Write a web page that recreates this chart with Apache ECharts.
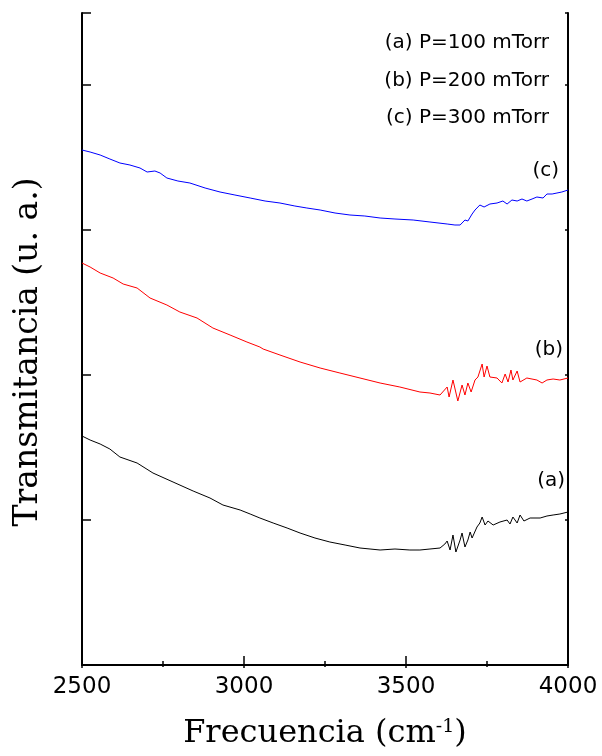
<!DOCTYPE html>
<html>
<head>
<meta charset="utf-8">
<title>Transmitancia</title>
<script src="https://cdn.jsdelivr.net/npm/echarts@6/dist/echarts.min.js"></script>
<style>
  html, body { margin: 0; padding: 0; background: #fff; }
</style>
</head>
<body>
<div id="chartDom" style="width: 602px; height: 756px;"></div>
<script>
// espectros (u. a. arbitrarias, frecuencia en cm-1)
const freqA = [2500, 2525, 2556, 2586, 2617, 2670, 2719, 2781, 2843, 2895, 2935, 2988, 3019, 3049, 3090, 3133, 3173, 3219, 3265, 3312, 3358, 3389, 3420, 3466, 3512, 3543, 3574, 3605, 3620, 3627, 3636, 3645, 3654, 3667, 3673, 3682, 3691, 3698, 3704, 3719, 3728, 3735, 3744, 3753, 3769, 3790, 3812, 3821, 3830, 3843, 3852, 3864, 3883, 3914, 3935, 3954, 3975, 4000];
const valA = [229, 225, 221, 216, 208, 202, 192, 183, 174, 167, 160, 155, 151, 147, 142, 137, 132, 127, 123, 120, 117, 116, 115, 116, 115, 115, 116, 117, 121, 124, 115, 130, 113, 125, 132, 118, 125, 133, 127, 138, 142, 148, 140, 144, 140, 143, 145, 141, 148, 142, 150, 144, 147, 147, 149, 150, 151, 153];

const freqB = [2500, 2525, 2556, 2596, 2627, 2670, 2710, 2762, 2802, 2855, 2904, 2957, 3009, 3049, 3059, 3111, 3173, 3235, 3296, 3358, 3420, 3481, 3543, 3574, 3605, 3627, 3633, 3645, 3660, 3673, 3682, 3691, 3701, 3713, 3722, 3735, 3741, 3750, 3759, 3781, 3796, 3806, 3815, 3824, 3830, 3843, 3852, 3873, 3904, 3920, 3935, 3954, 3975, 4000];
const valB = [402, 398, 392, 387, 381, 377, 367, 360, 353, 347, 337, 330, 323, 318, 316, 310, 303, 297, 292, 287, 282, 278, 273, 272, 270, 278, 268, 285, 264, 280, 270, 282, 273, 285, 288, 301, 288, 299, 288, 287, 282, 291, 283, 295, 285, 294, 283, 287, 285, 282, 285, 286, 285, 287];

const freqC = [2500, 2525, 2556, 2586, 2617, 2648, 2679, 2701, 2725, 2741, 2762, 2796, 2833, 2880, 2926, 2972, 3019, 3065, 3111, 3157, 3194, 3235, 3281, 3327, 3373, 3420, 3466, 3522, 3574, 3627, 3651, 3667, 3682, 3691, 3704, 3713, 3728, 3741, 3759, 3781, 3799, 3812, 3827, 3843, 3858, 3873, 3889, 3904, 3923, 3935, 3951, 3966, 3981, 4000];
const valC = [515, 513, 510, 506, 502, 500, 497, 493, 494, 492, 487, 484, 482, 477, 473, 470, 467, 464, 462, 459, 457, 455, 452, 450, 449, 447, 446, 445, 443, 441, 440, 440, 445, 444, 451, 455, 460, 458, 461, 462, 464, 461, 465, 464, 466, 464, 466, 468, 467, 471, 471, 472, 473, 475];

const xTicks = [2500, 3000, 3500, 4000];
const legendLines = ['(a) P=100 mTorr', '(b) P=200 mTorr', '(c) P=300 mTorr'];
const curveLabels = ['(a)', '(b)', '(c)'];

const zip = (xs, ys) => xs.map((x, i) => [x, ys[i]]);

const chart = echarts.init(document.getElementById('chartDom'));

const sansText = (text, x, y, align) => ({
  type: 'text',
  x: x,
  y: y,
  style: {
    text: text,
    fill: '#000',
    fontSize: 20,
    fontFamily: 'DejaVu Sans',
    align: align, textAlign: align,
    verticalAlign: 'middle', textVerticalAlign: 'middle'
  }
});

const option = {
  animation: false,
  backgroundColor: '#fff',
  grid: { left: 82, right: 34, top: 13, bottom: 91 },
  xAxis: [
    {
      type: 'value',
      min: xTicks[0],
      max: xTicks[xTicks.length - 1],
      interval: 500,
      axisLine: { lineStyle: { color: '#000', width: 2 } },
      axisTick: { inside: true, length: 9, lineStyle: { color: '#000', width: 1.5 } },
      minorTick: { show: true, splitNumber: 2, length: 4, lineStyle: { color: '#000', width: 1.5 } },
      splitLine: { show: false },
      axisLabel: {
        color: '#000', fontSize: 23, fontFamily: 'DejaVu Sans', margin: 11,
        formatter: v => String(v)
      }
    },
    {
      type: 'value',
      position: 'top',
      min: xTicks[0],
      max: xTicks[xTicks.length - 1],
      interval: 500,
      axisLine: { lineStyle: { color: '#000', width: 2 } },
      axisTick: { inside: true, length: 3, lineStyle: { color: '#000', width: 1.5 } },
      minorTick: { show: true, splitNumber: 2, length: 2, lineStyle: { color: '#000', width: 1.5 } },
      splitLine: { show: false },
      axisLabel: { show: false }
    }
  ],
  yAxis: [
    {
      type: 'value',
      min: 0,
      max: 652,
      interval: 145,
      axisLine: { show: true, lineStyle: { color: '#000', width: 2 } },
      axisTick: { show: true, inside: true, length: 9, lineStyle: { color: '#000', width: 1.5 } },
      splitLine: { show: false },
      axisLabel: { show: false }
    },
    {
      type: 'value',
      position: 'right',
      min: 0,
      max: 652,
      interval: 145,
      axisLine: { show: true, lineStyle: { color: '#000', width: 2 } },
      axisTick: { show: true, inside: true, length: 3, lineStyle: { color: '#000', width: 1.5 } },
      splitLine: { show: false },
      axisLabel: { show: false }
    }
  ],
  series: [
    { name: 'a', type: 'line', data: zip(freqA, valA), showSymbol: false, lineStyle: { color: '#000', width: 1 } },
    { name: 'b', type: 'line', data: zip(freqB, valB), showSymbol: false, lineStyle: { color: '#ff0000', width: 1 } },
    { name: 'c', type: 'line', data: zip(freqC, valC), showSymbol: false, lineStyle: { color: '#0000ff', width: 1 } }
  ],
  graphic: [
    sansText(legendLines[0], 549, 43, 'right'),
    sansText(legendLines[1], 549, 81, 'right'),
    sansText(legendLines[2], 549, 118, 'right'),
    sansText(curveLabels[2], 559, 171, 'right'),
    sansText(curveLabels[1], 563, 350, 'right'),
    sansText(curveLabels[0], 565, 481, 'right'),
    {
      type: 'text',
      x: 325,
      y: 734,
      style: {
        text: '{t|Frecuencia (cm}{sup|-1}{t|)}',
        align: 'center', textAlign: 'center',
        verticalAlign: 'middle', textVerticalAlign: 'middle',
        fill: '#000',
        fontSize: 32,
        fontFamily: 'DejaVu Serif',
        rich: {
          t: { fontSize: 32, fontFamily: 'DejaVu Serif', fill: '#000' },
          sup: { fontSize: 19, fontFamily: 'DejaVu Serif', fill: '#000', verticalAlign: 'top' }
        }
      }
    },
    {
      type: 'text',
      x: 28,
      y: 352,
      rotation: Math.PI / 2,
      style: {
        text: 'Transmitancia (u. a.)',
        align: 'center', textAlign: 'center',
        verticalAlign: 'middle', textVerticalAlign: 'middle',
        fill: '#000',
        fontSize: 33,
        fontFamily: 'DejaVu Serif'
      }
    }
  ]
};

chart.setOption(option);
</script>
</body>
</html>
